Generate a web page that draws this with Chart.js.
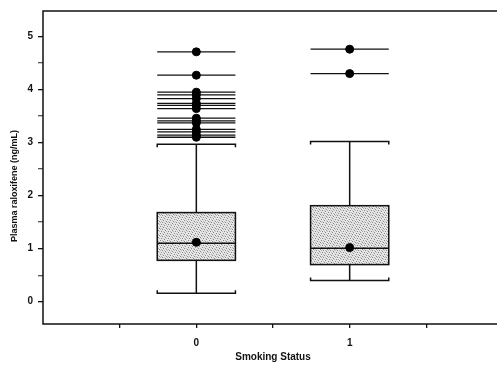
<!DOCTYPE html>
<html>
<head>
<meta charset="utf-8">
<script src="https://cdn.jsdelivr.net/npm/chart.js@4"></script>
<style>
  html, body { margin: 0; padding: 0; background: #fff; overflow: hidden; }
  #wrap { width: 497px; height: 368px; overflow: hidden; position: relative; }
  #c { position: absolute; left: 0; top: 0; }
</style>
</head>
<body>
<div id="wrap"><canvas id="c" width="512" height="368"></canvas></div>
<script>
// Plasma raloxifene by smoking status: box summaries per group
const groups = [0, 1];
const lowerWhisker = [0.16, 0.40];
const q1 = [0.78, 0.70];
const median = [1.10, 1.01];
const q3 = [1.68, 1.81];
const upperWhisker = [2.97, 3.02];
const means = [1.12, 1.02];
const outliers0 = [4.71, 4.27, 3.95, 3.90, 3.83, 3.74, 3.70, 3.64, 3.46, 3.41, 3.37, 3.25, 3.20, 3.14, 3.10];
const outliers1 = [4.76, 4.30];
const outliers = [outliers0, outliers1];
const yTickLabels = ['0', '1', '2', '3', '4', '5'];
const xTickLabels = ['0', '1'];
const xTitle = 'Smoking Status';
const yTitle = 'Plasma raloxifene (ng/mL)';

const HALF = 0.255; // half box width in x units

// stippled grey fill for the boxes
function makeStipple() {
  const p = document.createElement('canvas');
  p.width = 7; p.height = 7;
  const g = p.getContext('2d');
  g.fillStyle = '#e6e6e6';
  g.fillRect(0, 0, 7, 7);
  g.fillStyle = '#888';
  const pts = [[0,0],[3,1],[6,2],[2,3],[5,4],[1,5],[4,6]];
  pts.forEach(([x, y]) => g.fillRect(x, y, 1, 1));
  g.fillStyle = '#b8b8b8';
  [[5,0],[1,2],[4,3],[0,4],[3,5],[6,5],[2,0]].forEach(([x, y]) => g.fillRect(x, y, 1, 1));
  return p;
}

const boxPlugin = {
  id: 'boxes',
  beforeDatasetsDraw(chart) {
    const ctx = chart.ctx;
    const xs = chart.scales.x, ys = chart.scales.y;
    const pattern = ctx.createPattern(makeStipple(), 'repeat');
    ctx.save();
    ctx.strokeStyle = '#111';
    ctx.lineWidth = 1.5;
    groups.forEach((gv, i) => {
      const xl = xs.getPixelForValue(gv - HALF);
      const xr = xs.getPixelForValue(gv + HALF);
      const xc = xs.getPixelForValue(gv);
      const yq1 = ys.getPixelForValue(q1[i]);
      const yq3 = ys.getPixelForValue(q3[i]);
      const ym = ys.getPixelForValue(median[i]);
      const ylw = ys.getPixelForValue(lowerWhisker[i]);
      const yuw = ys.getPixelForValue(upperWhisker[i]);
      // whisker stems
      ctx.beginPath();
      ctx.moveTo(xc, yq3); ctx.lineTo(xc, yuw);
      ctx.moveTo(xc, yq1); ctx.lineTo(xc, ylw);
      ctx.stroke();
      // caps with small end hooks
      [[yuw, 1], [ylw, -1]].forEach(([yy, dir]) => {
        ctx.beginPath();
        ctx.moveTo(xl, yy + dir * 3); ctx.lineTo(xl, yy); ctx.lineTo(xr, yy); ctx.lineTo(xr, yy + dir * 3);
        ctx.stroke();
      });
      // box
      ctx.fillStyle = pattern;
      ctx.fillRect(xl, yq3, xr - xl, yq1 - yq3);
      ctx.strokeRect(xl, yq3, xr - xl, yq1 - yq3);
      // median
      ctx.beginPath();
      ctx.moveTo(xl, ym); ctx.lineTo(xr, ym);
      ctx.stroke();
      // outlier lines
      ctx.lineWidth = 1.3;
      outliers[i].forEach(v => {
        const yy = ys.getPixelForValue(v);
        ctx.beginPath();
        ctx.moveTo(xl, yy); ctx.lineTo(xr, yy);
        ctx.stroke();
      });
      ctx.lineWidth = 1.5;
    });
    ctx.restore();
  },
  afterDraw(chart) {
    const ctx = chart.ctx;
    const a = chart.chartArea;
    ctx.save();
    ctx.strokeStyle = '#111';
    ctx.lineWidth = 1.5;
    ctx.strokeRect(a.left, a.top, a.right - a.left, a.bottom - a.top);
    ctx.fillStyle = '#111';
    ctx.textAlign = 'center';
    ctx.textBaseline = 'middle';
    ctx.font = 'bold 10px "Liberation Sans", Arial, sans-serif';
    ctx.fillText(xTitle, chart.scales.x.getPixelForValue(0.5), 357);
    ctx.font = 'bold 9px "Liberation Sans", Arial, sans-serif';
    ctx.translate(15, 186);
    ctx.rotate(-Math.PI / 2);
    ctx.fillText(yTitle, 0, 0);
    ctx.restore();
  }
};

const meanPoints = groups.map((g, i) => ({ x: g, y: means[i] }));
const outlierPoints = [];
groups.forEach((g, i) => outliers[i].forEach(v => outlierPoints.push({ x: g, y: v })));

new Chart(document.getElementById('c'), {
  type: 'scatter',
  data: {
    datasets: [
      { data: outlierPoints, backgroundColor: '#000', borderColor: '#000', pointRadius: 4, pointHoverRadius: 4 },
      { data: meanPoints, backgroundColor: '#000', borderColor: '#000', pointRadius: 4, pointHoverRadius: 4 }
    ]
  },
  options: {
    responsive: false,
    animation: false,
    events: [],
    layout: { padding: { left: 0, top: 7, right: 2, bottom: 0 } },
    plugins: { legend: { display: false }, tooltip: { enabled: false } },
    scales: {
      x: {
        type: 'linear',
        min: -1, max: 2,
        afterFit(s) { s.height = 44; },
        border: { display: false },
        grid: {
          drawOnChartArea: false,
          tickLength: 4,
          lineWidth: 1.3,
          color: (c) => {
            const v = c.tick ? c.tick.value : 0;
            return (v <= -1 || v >= 2) ? 'rgba(0,0,0,0)' : '#111';
          }
        },
        ticks: {
          stepSize: 0.5,
          padding: 9,
          color: '#111',
          font: { family: '"Liberation Sans", Arial, sans-serif', size: 10, weight: 'bold' },
          callback: (v) => xTickLabels.includes(String(v)) ? String(v) : ''
        }
      },
      y: {
        type: 'linear',
        min: -0.42, max: 5.48,
        afterFit(s) { s.width = 43; },
        border: { display: false },
        grid: {
          drawOnChartArea: false,
          tickLength: 5,
          lineWidth: 1.3,
          color: (c) => {
            const v = c.tick ? c.tick.value : 0;
            return Number.isInteger(v) ? '#111' : '#555';
          }
        },
        ticks: {
          stepSize: 0.5,
          includeBounds: false,
          padding: 5,
          color: '#111',
          font: { family: '"Liberation Sans", Arial, sans-serif', size: 10, weight: 'bold' },
          callback: (v) => yTickLabels.includes(String(v)) ? String(v) : ''
        }
      }
    }
  },
  plugins: [boxPlugin]
});
</script>
</body>
</html>
